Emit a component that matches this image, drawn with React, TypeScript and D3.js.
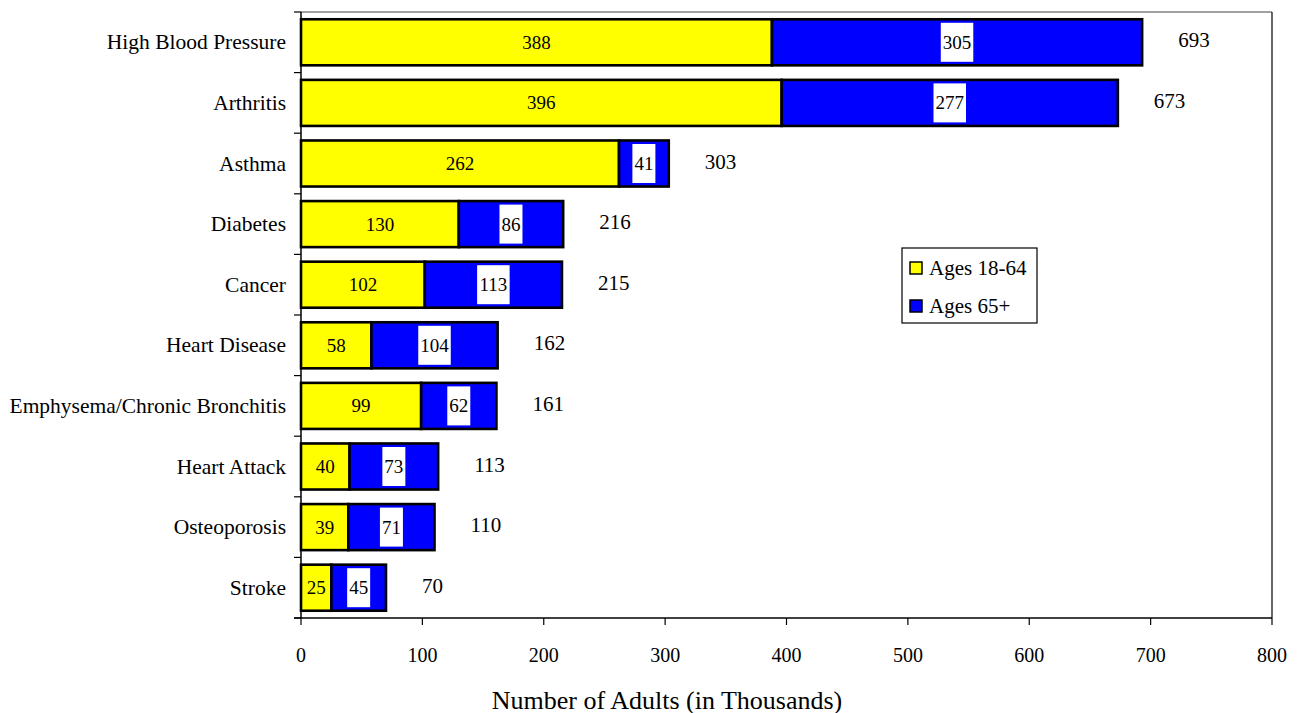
import React from "react";
import * as d3 from "d3";

const categories = [
  "High Blood Pressure",
  "Arthritis",
  "Asthma",
  "Diabetes",
  "Cancer",
  "Heart Disease",
  "Emphysema/Chronic Bronchitis",
  "Heart Attack",
  "Osteoporosis",
  "Stroke",
];
const ages18to64 = [388, 396, 262, 130, 102, 58, 99, 40, 39, 25];
const ages65plus = [305, 277, 41, 86, 113, 104, 62, 73, 71, 45];
const totals = [693, 673, 303, 216, 215, 162, 161, 113, 110, 70];
const xTicks = [0, 100, 200, 300, 400, 500, 600, 700, 800];
const seriesNames = ["Ages 18-64", "Ages 65+"];
const seriesColors = ["#ffff00", "#0000ff"];

const W = 1299;
const H = 713;
const M = { left: 301, right: 1272, top: 12, bottom: 618 };
const FONT = "'Liberation Serif', 'Times New Roman', serif";

export default function App() {
  const x = d3.scaleLinear().domain([0, 800]).range([M.left, M.right]);
  const y = d3
    .scaleBand<string>()
    .domain(categories)
    .range([M.top, M.bottom])
    .paddingInner(0.24)
    .paddingOuter(0.12);
  const step = y.step();
  const bh = y.bandwidth();

  const rows = categories.map((c, i) => ({
    c,
    segs: [
      { x0: 0, x1: ages18to64[i], v: ages18to64[i], s: 0 },
      { x0: ages18to64[i], x1: ages18to64[i] + ages65plus[i], v: ages65plus[i], s: 1 },
    ],
    total: totals[i],
  }));

  const boundaries = d3.range(categories.length + 1).map((k) => M.top + k * step);

  return (
    <svg
      width={W}
      height={H}
      style={{ position: "absolute", left: 0, top: 0, background: "#fff" }}
      fontFamily={FONT}
    >
      {/* plot frame */}
      <line x1={M.left} x2={M.right} y1={M.top} y2={M.top} stroke="#808080" strokeWidth={1.5} />
      <line x1={M.right} x2={M.right} y1={M.top} y2={M.bottom} stroke="#000" strokeWidth={1.2} />

      {/* bars */}
      {rows.map((r) => (
        <g key={r.c}>
          {r.segs.map((s) => (
            <rect
              key={s.s}
              x={x(s.x0)}
              y={y(r.c)!}
              width={x(s.x1) - x(s.x0)}
              height={bh}
              fill={seriesColors[s.s]}
              stroke="#000"
              strokeWidth={2.6}
            />
          ))}
          {r.segs.map((s) => {
            const cx = (x(s.x0) + x(s.x1)) / 2;
            const cy = y(r.c)! + bh / 2;
            const label = String(s.v);
            const tw = label.length * 9.5 + 4;
            return (
              <g key={"l" + s.s}>
                {s.s === 1 && (
                  <rect x={cx - tw / 2} y={cy - 19.5} width={tw} height={39} fill="#fff" />
                )}
                <text
                  x={cx}
                  y={cy}
                  textAnchor="middle"
                  dominantBaseline="central"
                  fontSize={19}
                  fill="#000"
                >
                  {label}
                </text>
              </g>
            );
          })}
          <text
            x={x(r.total) + 36}
            y={y(r.c)! + bh / 2 - 2}
            dominantBaseline="central"
            fontSize={21}
            fill="#000"
          >
            {r.total}
          </text>
        </g>
      ))}

      {/* y axis */}
      <line x1={M.left} x2={M.left} y1={M.top} y2={M.bottom} stroke="#000" strokeWidth={1.5} />
      {boundaries.map((b, i) => (
        <line key={i} x1={M.left - 7} x2={M.left} y1={b} y2={b} stroke="#000" strokeWidth={1.2} />
      ))}
      {categories.map((c) => (
        <text
          key={c}
          x={286}
          y={y(c)! + bh / 2}
          textAnchor="end"
          dominantBaseline="central"
          fontSize={21.5}
          fill="#000"
        >
          {c}
        </text>
      ))}

      {/* x axis */}
      <line x1={M.left - 7} x2={M.right} y1={M.bottom} y2={M.bottom} stroke="#000" strokeWidth={1.5} />
      {xTicks.map((t) => (
        <g key={t}>
          <line x1={x(t)} x2={x(t)} y1={M.bottom} y2={M.bottom + 7} stroke="#000" strokeWidth={1.2} />
          <text x={x(t)} y={655} textAnchor="middle" dominantBaseline="central" fontSize={20} fill="#000">
            {t}
          </text>
        </g>
      ))}
      <text x={667} y={700} textAnchor="middle" dominantBaseline="central" fontSize={26} fill="#000">
        Number of Adults (in Thousands)
      </text>

      {/* legend */}
      <rect x={902} y={248} width={135} height={75} fill="#fff" stroke="#000" strokeWidth={1.2} />
      {seriesNames.map((n, i) => (
        <g key={n}>
          <rect
            x={910}
            y={262 + i * 38}
            width={12}
            height={12}
            fill={seriesColors[i]}
            stroke="#000"
            strokeWidth={1.5}
          />
          <text x={929} y={268 + i * 38} dominantBaseline="central" fontSize={21} fill="#000">
            {n}
          </text>
        </g>
      ))}
    </svg>
  );
}
